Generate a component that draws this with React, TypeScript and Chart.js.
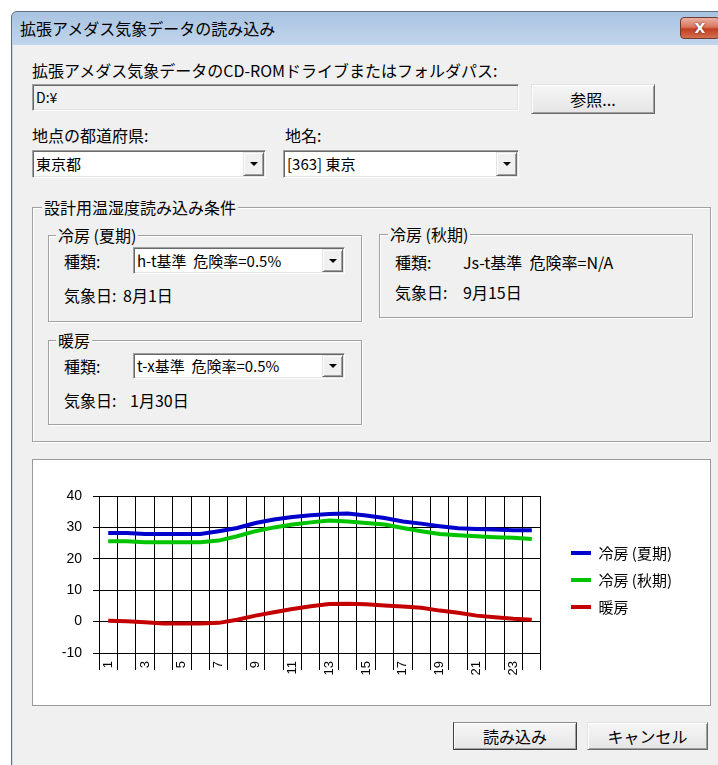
import React, { useEffect, useRef } from "react";
import { Chart, registerables } from "chart.js";

Chart.register(...registerables);

// ---- data ----
const HOURS = ["1", "2", "3", "4", "5", "6", "7", "8", "9", "10", "11", "12", "13", "14", "15", "16", "17", "18", "19", "20", "21", "22", "23", "24"];
const SUMMER_COOLING = [28.2, 28.2, 27.9, 27.9, 27.9, 27.9, 28.8, 29.8, 31.4, 32.5, 33.3, 33.9, 34.3, 34.4, 33.8, 33.0, 31.9, 31.2, 30.4, 29.7, 29.5, 29.3, 29.1, 29.1];
const AUTUMN_COOLING = [25.6, 25.6, 25.3, 25.3, 25.3, 25.3, 25.8, 27.2, 28.8, 30.0, 30.9, 31.6, 32.2, 31.9, 31.4, 30.9, 29.8, 28.8, 27.9, 27.5, 27.2, 26.9, 26.7, 26.3];
const HEATING = [0.3, 0.1, -0.2, -0.6, -0.6, -0.6, -0.4, 0.6, 1.9, 3.0, 4.0, 4.9, 5.6, 5.7, 5.5, 5.1, 4.8, 4.4, 3.5, 2.8, 1.9, 1.4, 0.9, 0.6];
const SERIES_LABELS = ["冷房 (夏期)", "冷房 (秋期)", "暖房"];
const SERIES_COLORS = ["#0000cc", "#00c400", "#c40000"];
const Y_MIN = -10;
const Y_MAX = 40;
const Y_STEP = 10;

const UI_FONT = '"Noto Sans CJK JP", "Noto Sans", sans-serif';
const NUM_FONT = '"Liberation Sans", Arial, sans-serif';

function TempChart() {
  const ref = useRef<HTMLCanvasElement>(null);
  useEffect(() => {
    const canvas = ref.current;
    if (!canvas) return;
    const series = [SUMMER_COOLING, AUTUMN_COOLING, HEATING];
    const chart = new Chart(canvas, {
      type: "line",
      data: {
        labels: HOURS,
        datasets: series.map((d, i) => ({
          label: SERIES_LABELS[i],
          data: d,
          borderColor: SERIES_COLORS[i],
          backgroundColor: SERIES_COLORS[i],
          borderWidth: 4,
          pointRadius: 0,
          tension: 0,
          fill: false,
          xAxisID: "x",
          yAxisID: "y",
        })),
      },
      options: {
        responsive: false,
        animation: false,
        events: [],
        layout: { padding: { left: 0, top: 0, right: 28, bottom: 5 } },
        plugins: {
          tooltip: { enabled: false },
          title: { display: false },
          legend: {
            position: "right",
            align: "center",
            maxWidth: 300,
            labels: {
              usePointStyle: true,
              pointStyle: "line",
              pointStyleWidth: 20,
              boxWidth: 20,
              padding: 12,
              color: "#000",
              font: { family: UI_FONT, size: 15 },
            },
          },
        },
        scales: {
          x: {
            type: "category",
            offset: true,
            grid: { offset: true, color: "#000", lineWidth: 1, drawTicks: true, tickLength: 17, tickColor: "#000" },
            border: { color: "#000" },
            ticks: {
              autoSkip: false,
              minRotation: 90,
              maxRotation: 90,
              padding: -9,
              color: "#000",
              font: { family: NUM_FONT, size: 13 },
              callback: (_v: any, i: number) => (i % 2 === 0 ? HOURS[i] : ""),
            },
            afterFit: (s: any) => {
              s.height = 47;
            },
          },
          y: {
            min: Y_MIN,
            max: Y_MAX,
            ticks: { stepSize: Y_STEP, padding: 11, color: "#000", font: { family: NUM_FONT, size: 14 } },
            grid: { color: "#000", lineWidth: 1, tickLength: 6, tickColor: "#000" },
            border: { color: "#000" },
            afterFit: (s: any) => {
              s.width = 66;
            },
          },
          xTop: {
            type: "linear",
            position: "top",
            display: true,
            grid: { display: false },
            border: { display: false },
            ticks: { display: false },
            afterFit: (s: any) => {
              s.height = 36;
            },
          },
          yGap: {
            type: "linear",
            position: "right",
            display: true,
            grid: { display: false },
            border: { display: false },
            ticks: { display: false },
            afterFit: (s: any) => {
              s.width = 18;
            },
          },
        },
      } as any,
    });
    return () => chart.destroy();
  }, []);
  return <canvas ref={ref} width={677} height={245} style={{ display: "block", width: 677, height: 245 }} />;
}

function Text({ x, y, children, size = 16 }: { x: number; y: number; children: any; size?: number }) {
  return (
    <div
      style={{
        position: "absolute",
        left: x,
        top: y - 12,
        height: 24,
        lineHeight: "24px",
        fontSize: size,
        fontFamily: UI_FONT,
        color: "#000",
        whiteSpace: "pre",
      }}
    >
      {children}
    </div>
  );
}

function Sunken({ x, y, w, h, bg, children }: any) {
  return (
    <div
      style={{
        position: "absolute",
        left: x,
        top: y,
        width: w,
        height: h,
        boxSizing: "border-box",
        background: bg,
        border: "1px solid",
        borderColor: "#a0a0a0 #ffffff #ffffff #a0a0a0",
        boxShadow: "inset 1px 1px 0 #696969, inset -1px -1px 0 #e3e3e3",
      }}
    >
      {children}
    </div>
  );
}

function Button({ x, y, w, h, label, isDefault }: any) {
  return (
    <div
      style={{
        position: "absolute",
        left: x,
        top: y,
        width: w,
        height: h,
        boxSizing: "border-box",
        background: "linear-gradient(#f6f6f6, #e5e5e5)",
        border: "1px solid",
        borderColor: isDefault ? "#8a8a8a #404040 #404040 #404040" : "#e3e3e3 #696969 #696969 #e3e3e3",
        boxShadow: "inset 1px 1px 0 #ffffff, inset -1px -1px 0 #a0a0a0",
        fontFamily: UI_FONT,
        fontSize: 16,
        color: "#000",
        display: "flex",
        alignItems: "center",
        justifyContent: "center",
        whiteSpace: "pre",
      }}
    >
      {label}
    </div>
  );
}

function Combo({ x, y, w, h, text }: any) {
  return (
    <Sunken x={x} y={y} w={w} h={h} bg="#ffffff">
      <div
        style={{
          position: "absolute",
          left: 3,
          top: 0,
          height: h - 2,
          lineHeight: `${h - 2}px`,
          fontFamily: UI_FONT,
          fontSize: 15,
          whiteSpace: "pre",
          color: "#000",
        }}
      >
        {text}
      </div>
      <div
        style={{
          position: "absolute",
          right: 1,
          top: 1,
          width: 21,
          height: h - 4,
          boxSizing: "border-box",
          background: "#f0f0f0",
          border: "1px solid",
          borderColor: "#e3e3e3 #696969 #696969 #e3e3e3",
          boxShadow: "inset 1px 1px 0 #ffffff, inset -1px -1px 0 #a0a0a0",
          display: "flex",
          alignItems: "center",
          justifyContent: "center",
        }}
      >
        <div
          style={{
            width: 0,
            height: 0,
            borderLeft: "4px solid transparent",
            borderRight: "4px solid transparent",
            borderTop: "4px solid #000",
          }}
        />
      </div>
    </Sunken>
  );
}

function Group({ x, y, w, h, title, tx }: any) {
  return (
    <>
      <div
        style={{
          position: "absolute",
          left: x,
          top: y,
          width: w,
          height: h,
          boxSizing: "border-box",
          border: "1px solid #a0a0a0",
          boxShadow: "inset 1px 1px 0 #ffffff, 1px 1px 0 #ffffff",
        }}
      />
      <div
        style={{
          position: "absolute",
          left: tx - 2,
          top: y - 12,
          height: 24,
          lineHeight: "24px",
          padding: "0 2px",
          background: "#f0f0f0",
          fontFamily: UI_FONT,
          fontSize: 16,
          color: "#000",
          whiteSpace: "pre",
        }}
      >
        {title}
      </div>
    </>
  );
}

export default function App() {
  return (
    <div style={{ position: "absolute", left: 0, top: 0, width: 718, height: 765, overflow: "hidden", background: "#ffffff" }}>
      {/* window frame + title bar */}
      <div
        style={{
          position: "absolute",
          left: 11,
          top: 11,
          width: 760,
          height: 800,
          boxSizing: "border-box",
          border: "1px solid #5f6f82",
          borderTopLeftRadius: 6,
          background: "linear-gradient(#a8c3e1, #c2d6ec 34px, #c9dbee)",
        }}
      />
      <div style={{ position: "absolute", left: 13, top: 45, width: 760, height: 800, background: "#f0f0f0" }} />
      <Text x={20} y={28} size={16}>拡張アメダス気象データの読み込み</Text>
      <div
        style={{
          position: "absolute",
          left: 680,
          top: 17,
          width: 40,
          height: 22,
          boxSizing: "border-box",
          border: "1px solid #6d3a33",
          borderRadius: 4,
          background: "linear-gradient(#eab0a2, #d8765d 45%, #c23d22 55%, #d4704f)",
          color: "#fff",
          fontFamily: '"DejaVu Sans", sans-serif',
          fontWeight: "bold",
          fontSize: 14,
          display: "flex",
          alignItems: "center",
          justifyContent: "center",
          textShadow: "0 0 2px #5a1a10",
        }}
      >
        X
      </div>

      {/* path */}
      <Text x={32} y={70}>拡張アメダス気象データのCD-ROMドライブまたはフォルダパス:</Text>
      <Sunken x={32} y={84} w={487} h={27} bg="#f0f0f0">
        <div style={{ position: "absolute", left: 3, top: 0, height: 25, lineHeight: "25px", fontFamily: UI_FONT, fontSize: 14 }}>D:¥</div>
      </Sunken>
      <Button x={531} y={84} w={124} h={30} label="参照..." />

      {/* location */}
      <Text x={32} y={135}>地点の都道府県:</Text>
      <Combo x={32} y={150} w={234} h={28} text="東京都" />
      <Text x={285} y={135}>地名:</Text>
      <Combo x={283} y={150} w={236} h={28} text="[363] 東京" />

      {/* conditions */}
      <Group x={32} y={207} w={679} h={235} title="設計用温湿度読み込み条件" tx={44} />
      <Group x={48} y={235} w={314} h={87} title="冷房 (夏期)" tx={58} />
      <Text x={64} y={261}>種類:</Text>
      <Combo x={133} y={247} w={212} h={27} text="h-t基準  危険率=0.5%" />
      <Text x={64} y={295}>気象日:</Text>
      <Text x={123} y={295}>8月1日</Text>

      <Group x={379} y={234} w={314} h={84} title="冷房 (秋期)" tx={390} />
      <Text x={395} y={262}>種類:</Text>
      <Text x={463} y={262}>Js-t基準  危険率=N/A</Text>
      <Text x={395} y={292}>気象日:</Text>
      <Text x={463} y={292}>9月15日</Text>

      <Group x={48} y={340} w={314} h={85} title="暖房" tx={58} />
      <Text x={64} y={366}>種類:</Text>
      <Combo x={133} y={353} w={212} h={26} text="t-x基準  危険率=0.5%" />
      <Text x={64} y={400}>気象日:</Text>
      <Text x={130} y={400}>1月30日</Text>

      {/* chart box */}
      <div
        style={{
          position: "absolute",
          left: 32,
          top: 459,
          width: 679,
          height: 247,
          boxSizing: "border-box",
          background: "#ffffff",
          border: "1px solid #9a9a9a",
        }}
      >
        <div style={{ position: "absolute", left: 0, top: 0, width: 677, height: 245 }}>
          <TempChart />
        </div>
      </div>

      {/* buttons */}
      <Button x={453} y={722} w={124} h={28} label="読み込み" isDefault />
      <Button x={587} y={722} w={121} h={28} label="キャンセル" />
    </div>
  );
}
